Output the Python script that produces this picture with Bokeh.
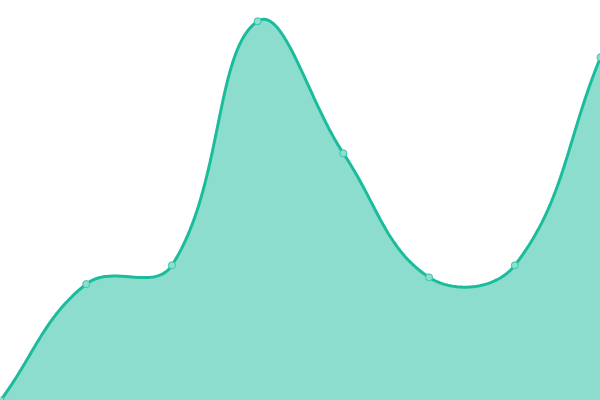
from bokeh.plotting import figure
from bokeh.models import Range1d
from bokeh.embed import file_html
from bokeh.resources import INLINE
import numpy as np

# data
categories = [0, 1, 2, 3, 4, 5, 6, 7]
values = [0, 29.1, 33.8, 94.8, 61.8, 30.8, 33.8, 85.8]

W, H = 600, 400
XMAX, YMAX = 7, 100
LINE = "#1abc9c"
TENSION = 0.4

# spline (Chart.js-like) computed in pixel space, converted back to data units
px = np.array(categories, float) * W / XMAX
py = np.array(values, float) * H / YMAX
n = len(px)
cp_prev = [(px[i], py[i]) for i in range(n)]
cp_next = [(px[i], py[i]) for i in range(n)]
for i in range(n):
    pi = max(i - 1, 0)
    ni = min(i + 1, n - 1)
    d01 = np.hypot(px[i] - px[pi], py[i] - py[pi])
    d12 = np.hypot(px[ni] - px[i], py[ni] - py[i])
    tot = d01 + d12
    s01 = d01 / tot if tot else 0
    s12 = d12 / tot if tot else 0
    fa, fb = TENSION * s01, TENSION * s12
    dx, dy = px[ni] - px[pi], py[ni] - py[pi]
    cp_prev[i] = (min(max(px[i] - fa * dx, 0), W), min(max(py[i] - fa * dy, 0), H))
    cp_next[i] = (min(max(px[i] + fb * dx, 0), W), min(max(py[i] + fb * dy, 0), H))

xs, ys = [], []
t = np.linspace(0, 1, 60)
for i in range(n - 1):
    p0 = np.array([px[i], py[i]])
    p1 = np.array(cp_next[i])
    p2 = np.array(cp_prev[i + 1])
    p3 = np.array([px[i + 1], py[i + 1]])
    seg = ((1 - t) ** 3)[:, None] * p0 + (3 * (1 - t) ** 2 * t)[:, None] * p1 \
        + (3 * (1 - t) * t ** 2)[:, None] * p2 + (t ** 3)[:, None] * p3
    if i > 0:
        seg = seg[1:]
    xs.extend(seg[:, 0])
    ys.extend(seg[:, 1])
cx = np.array(xs) * XMAX / W
cy = np.array(ys) * YMAX / H

p = figure(width=W, height=H, output_backend="svg", toolbar_location=None,
           x_range=Range1d(0, XMAX), y_range=Range1d(0, YMAX),
           min_border=0, outline_line_color=None)
p.axis.visible = False
p.grid.visible = False
p.background_fill_color = "white"
p.border_fill_color = "white"

p.varea(x=cx, y1=0, y2=cy, fill_color=LINE, fill_alpha=0.5)
p.line(cx, cy, line_color=LINE, line_width=3)
p.scatter(categories, values, size=7, fill_color="#8ce0d0", line_color="#3cc4a8", line_width=1)

open("out.html", "w").write(file_html(p, INLINE))
